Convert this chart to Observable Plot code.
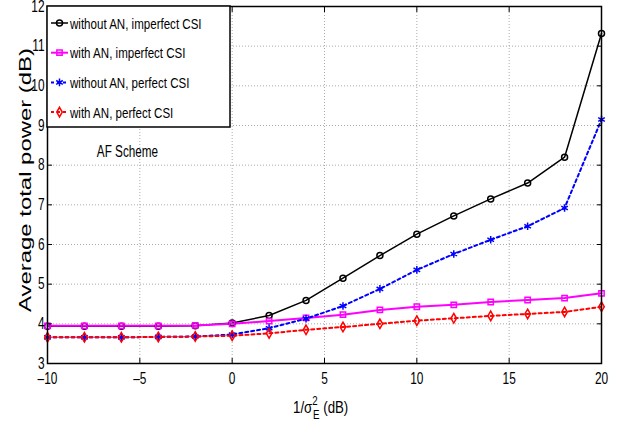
<!DOCTYPE html>
<html><head><meta charset="utf-8">
<script src="https://cdn.jsdelivr.net/npm/d3@7"></script>
<script src="https://cdn.jsdelivr.net/npm/@observablehq/plot@0.6"></script>
<style>
body{margin:0;background:#fff}
#chart svg{font-family:"Liberation Sans",Arial,sans-serif;}
</style>
</head><body><div id="chart"></div>
<script>
const snr = [-10,-8,-6,-4,-2,0,2,4,6,8,10,12,14,16,18,20];
const withoutANImperfect = [3.94,3.94,3.94,3.94,3.95,4.02,4.21,4.59,5.15,5.72,6.26,6.72,7.15,7.55,8.20,11.32];
const withANImperfect    = [3.95,3.95,3.95,3.95,3.96,4.00,4.07,4.15,4.23,4.35,4.43,4.48,4.55,4.60,4.65,4.77];
const withoutANPerfect   = [3.66,3.66,3.66,3.67,3.68,3.73,3.89,4.13,4.45,4.88,5.36,5.76,6.12,6.46,6.92,9.15];
const withANPerfect      = [3.66,3.66,3.66,3.67,3.68,3.70,3.76,3.85,3.92,4.00,4.08,4.14,4.20,4.25,4.30,4.43];
const seriesNames = ["without AN, imperfect CSI","with AN, imperfect CSI","without AN, perfect CSI","with AN, perfect CSI"];
const xTicks = [-10,-5,0,5,10,15,20];
const yTicks = [3,4,5,6,7,8,9,10,11,12];
const annotation = "AF Scheme";
const yLabel = "Average total power (dB)";

const seriesValues = [withoutANImperfect, withANImperfect, withoutANPerfect, withANPerfect];
const styles = [
  {stroke:"#000000", width:1.5, dash:null, symbol:"circle", r:3},
  {stroke:"#ff00ff", width:2, dash:null, symbol:"square", r:3},
  {stroke:"#0000ff", width:2, dash:"3,3", symbol:"asterisk", r:3.6},
  {stroke:"#ff0000", width:2, dash:"3,3", symbol:"diamond", r:2.9}
];
const series = seriesNames.map((name,i)=>snr.map((x,j)=>({x, y:seriesValues[i][j], name})));

const marks = [
  Plot.ruleX(xTicks.slice(1,-1), {stroke:"#aaa", strokeDasharray:"1,2"}),
  Plot.ruleY(yTicks.slice(1,-1), {stroke:"#aaa", strokeDasharray:"1,2"}),
];
series.forEach((d,i)=>{
  const s = styles[i];
  marks.push(Plot.line(d, {x:"x", y:"y", stroke:s.stroke, strokeWidth:s.width, strokeDasharray:s.dash}));
});
series.forEach((d,i)=>{
  const s = styles[i];
  marks.push(Plot.dot(d, {x:"x", y:"y", symbol:()=>s.symbol, stroke:s.stroke, fill:"none", r:s.r, strokeWidth:1.5}));
});
marks.push(
  Plot.axisX(xTicks, {anchor:"bottom", tickSize:-5, tickFormat:()=>"", label:null}),
  Plot.axisX(xTicks, {anchor:"top", tickSize:-5, tickFormat:()=>"", label:null}),
  Plot.axisY(yTicks, {anchor:"left", tickSize:-5, tickFormat:()=>"", label:null}),
  Plot.axisY(yTicks, {anchor:"right", tickSize:-5, tickFormat:()=>"", label:null}),
  Plot.axisX(xTicks, {anchor:"bottom", tickSize:0, tickPadding:9, fontSize:16.5, tickFormat:d=>d<0?"–"+Math.abs(d):String(d), label:null}),
  Plot.axisY(yTicks, {anchor:"left", tickSize:0, tickPadding:3, fontSize:16.5, label:null}),
  Plot.frame({stroke:"#000", strokeWidth:1.5}),
  Plot.text([annotation], {x:()=>-5.67, y:()=>8.34, text:d=>d, fontSize:16.3})
);

const chart = Plot.plot({
  width:628, height:423,
  marginLeft:47, marginRight:27, marginTop:6, marginBottom:60,
  x:{domain:[-10,20], axis:null},
  y:{domain:[3,12], axis:null},
  marks
});
document.getElementById("chart").appendChild(chart);

function squash(sel, ratio){
  sel.each(function(){
    const w = this.getComputedTextLength();
    if (w > 0) d3.select(this).attr("textLength", w*ratio).attr("lengthAdjust","spacingAndGlyphs");
  });
}
const svg = d3.select(chart);
// all texts drawn by Plot: tick labels and annotation
squash(svg.selectAll("text"), 0.72);

// Legend
const lg = svg.append("g").attr("text-anchor","start");
lg.append("rect").attr("x",47).attr("y",6).attr("width",183).attr("height",121)
  .attr("fill","#fff").attr("stroke","#000").attr("stroke-width",1.5);
const symMap = {circle:d3.symbolCircle, square:d3.symbolSquare, asterisk:d3.symbolAsterisk, diamond:d3.symbolDiamond};
seriesNames.forEach((name,i)=>{
  const s = styles[i];
  const y = 23 + i*29.7;
  lg.append("line").attr("x1",51).attr("x2",68).attr("y1",y).attr("y2",y)
    .attr("stroke",s.stroke).attr("stroke-width",s.width).attr("stroke-dasharray",s.dash);
  lg.append("path").attr("transform",`translate(59.5,${y})`)
    .attr("d", d3.symbol(symMap[s.symbol], s.r*s.r*Math.PI)())
    .attr("fill","none").attr("stroke",s.stroke).attr("stroke-width",1.5);
  const t = lg.append("text").attr("x",70).attr("y",y).attr("dy","0.36em")
    .attr("font-size",15.5).attr("fill","#000").attr("text-anchor","start").text(name);
  squash(t, 0.745);
});
// x label
const xl = svg.append("text").attr("x",293).attr("y",413).attr("text-anchor","start")
  .attr("font-size",17).attr("fill","#000");
xl.append("tspan").text("1/σ");
xl.append("tspan").attr("font-size",12.5).attr("dy",-8).text("2");
xl.append("tspan").attr("font-size",12.5).attr("dx",-6).attr("dy",14).text("E");
xl.append("tspan").attr("dy",-6).text(" (dB)");
const xw = xl.node().getComputedTextLength();
xl.attr("transform",`translate(293,0) scale(${xw>0?60/xw:0.75},1) translate(-293,0)`);
// y label
const yl = svg.append("text").attr("transform","translate(31,180) scale(0.75,1) rotate(-90)").attr("text-anchor","middle")
  .attr("font-size",23).attr("fill","#000").text(yLabel);
if (yl.node().getComputedTextLength() > 0) yl.attr("textLength", 264).attr("lengthAdjust","spacingAndGlyphs");
</script>
</body></html>
